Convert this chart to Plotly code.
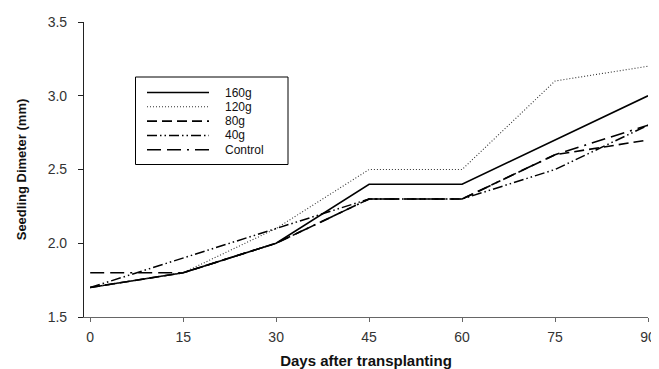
import plotly.graph_objects as go

days = [0, 15, 30, 45, 60, 75, 90]
s160 = [1.7, 1.8, 2.0, 2.4, 2.4, 2.7, 3.0]
s120 = [1.7, 1.8, 2.1, 2.5, 2.5, 3.1, 3.2]
s80 = [1.7, 1.8, 2.0, 2.3, 2.3, 2.6, 2.7]
s40 = [1.7, 1.9, 2.1, 2.3, 2.3, 2.5, 2.8]
sctrl = [1.8, 1.8, 2.0, 2.3, 2.3, 2.6, 2.8]
names = ["160g", "120g", "80g", "40g", "Control"]
series = [s160, s120, s80, s40, sctrl]
dashes = ["solid", "1px,2px", "10px,5px", "10px,3px,1.5px,3px,1.5px,3px", "14px,6px,14px,6px,2px,6px"]
widths = [1.6, 1.1, 1.6, 1.5, 1.6]
colors = ["#000000", "#333333", "#000000", "#000000", "#000000"]

OFF = 8  # page body margin
W, H = 651, 361
L, R, T, B = 76, 11, 14, 52
pw, ph = W - L - R, H - T - B


def px(x):
    return (x - OFF - L) / pw


def py(y):
    return (H - B - (y - OFF)) / ph


fig = go.Figure()
for n, s, d, w, c in zip(names, series, dashes, widths, colors):
    fig.add_trace(go.Scatter(x=days, y=s, mode="lines", name=n, showlegend=False,
                             line=dict(color=c, width=w, dash=d)))

# manual legend box
shapes = [dict(type="rect", xref="paper", yref="paper", x0=px(135.5), x1=px(288),
               y0=py(77), y1=py(164.5), line=dict(color="#000", width=1), fillcolor="white",
               layer="below")]
annotations = []
for i, (n, d, w, c) in enumerate(zip(names, dashes, widths, colors)):
    yy = 92.5 + 14.3 * i
    shapes.append(dict(type="line", xref="paper", yref="paper", x0=px(147), x1=px(209),
                       y0=py(yy), y1=py(yy), line=dict(color=c, width=w, dash=d)))
    annotations.append(dict(xref="paper", yref="paper", x=px(223), y=py(yy), text=n,
                            showarrow=False, xanchor="left", yanchor="middle",
                            font=dict(size=12, color="#111")))

fig.update_layout(
    width=W, height=H,
    margin=dict(l=L, r=R, t=T, b=B),
    paper_bgcolor="white", plot_bgcolor="white",
    font=dict(family="Liberation Sans, Arial, sans-serif", color="#222"),
    showlegend=False, shapes=shapes, annotations=annotations,
)
fig.update_xaxes(range=[-1, 90], tickvals=days, ticktext=[str(d) for d in days],
                 showline=True, linecolor="#666", linewidth=1.2, ticks="outside",
                 ticklen=4, tickcolor="#666", showgrid=False, zeroline=False,
                 automargin=False, ticklabelstandoff=3,
                 tickfont=dict(size=14, color="#333"),
                 title=dict(text="<b>Days after transplanting</b>", font=dict(size=15, color="#111"), standoff=12))
fig.update_yaxes(range=[1.5, 3.5], tickvals=[1.5, 2.0, 2.5, 3.0, 3.5],
                 ticktext=["1.5", "2.0", "2.5", "3.0", "3.5"],
                 showline=True, linecolor="#222", linewidth=1.2, ticks="outside",
                 ticklen=5, tickcolor="#222", showgrid=False, zeroline=False,
                 automargin=False, ticklabelstandoff=8,
                 tickfont=dict(size=14, color="#333"),
                 title=dict(text="<b>Seedling Dimeter (mm)</b>", font=dict(size=13, color="#111"), standoff=18))
fig.write_html("out.html")
